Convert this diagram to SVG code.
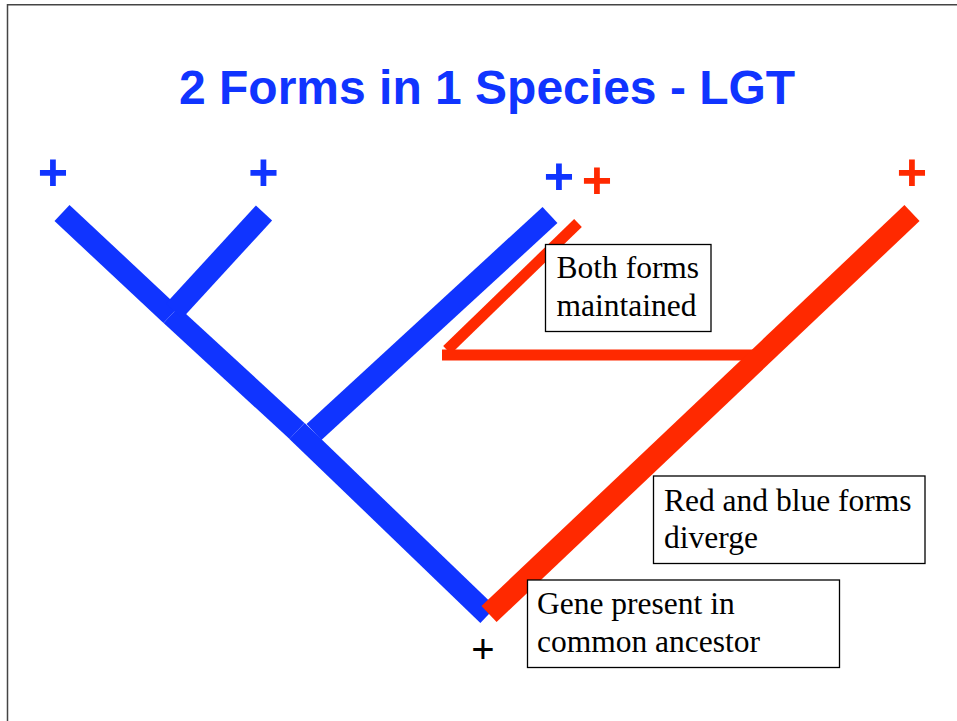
<svg xmlns="http://www.w3.org/2000/svg" width="957" height="721" viewBox="0 0 957 721">
  <style>
    .blue { stroke: #1034FF; stroke-width: 22; stroke-linecap: butt; fill: none; }
    .red { stroke: #FF2900; stroke-width: 22; stroke-linecap: butt; fill: none; }
    .redthin { stroke: #FF2900; stroke-width: 11; stroke-linecap: butt; fill: none; }
    .box { fill: #FFFFFF; stroke: #000000; stroke-width: 1.3; }
    .lbl { font-family: "Liberation Serif", "Times New Roman", serif; font-size: 31.5px; fill: #000000; }
    .plusb { font-family: "Liberation Sans", Arial, sans-serif; font-weight: bold; font-size: 52px; fill: #1034FF; text-anchor: middle; }
    .plusr { font-family: "Liberation Sans", Arial, sans-serif; font-weight: bold; font-size: 52px; fill: #FF2900; text-anchor: middle; }
    .plusk { font-family: "Liberation Sans", Arial, sans-serif; font-size: 40px; fill: #000000; text-anchor: middle; }
  </style>
  <rect x="0" y="0" width="957" height="721" fill="#FFFFFF"/>
  <g id="frame" fill="none" stroke="#444444" stroke-width="1.5">
    <path d="M7.5 721 V4.8 H957"/>
  </g>
  <text id="title" x="179" y="103.5" font-family="Liberation Sans, Arial, sans-serif" font-weight="bold" font-size="48" fill="#1034FF">2 Forms in 1 Species - LGT</text>
  <g id="connectors">
    <line class="blue" x1="62" y1="213" x2="171" y2="315"/>
    <line class="blue" x1="171" y1="315" x2="297" y2="431"/>
    <line class="blue" x1="297" y1="431" x2="488" y2="615"/>
    <line class="blue" x1="264" y1="213" x2="174" y2="311"/>
    <line class="blue" x1="550" y1="215" x2="314" y2="432"/>
    <line class="redthin" x1="578" y1="223" x2="447" y2="350"/>
    <line class="redthin" x1="442" y1="355" x2="757" y2="355"/>
    <line class="red" x1="489" y1="614" x2="912" y2="213"/>
  </g>
  <g id="plus-marks">
    <text class="plusb" x="53" y="190">+</text>
    <text class="plusb" x="263.5" y="190">+</text>
    <text class="plusb" x="559" y="194">+</text>
    <text class="plusr" x="597" y="198">+</text>
    <text class="plusr" x="912" y="190">+</text>
    <text class="plusk" x="483" y="663">+</text>
  </g>
  <g id="node-both">
    <rect class="box" x="545.5" y="244.5" width="165.5" height="87"/>
    <text class="lbl" x="556.5" y="278">Both forms</text>
    <text class="lbl" x="556.5" y="316">maintained</text>
  </g>
  <g id="node-diverge">
    <rect class="box" x="653.5" y="476" width="271.5" height="87.5"/>
    <text class="lbl" x="664" y="511">Red and blue forms</text>
    <text class="lbl" x="664" y="548">diverge</text>
  </g>
  <g id="node-ancestor">
    <rect class="box" x="527.5" y="580" width="312" height="87.5"/>
    <text class="lbl" x="537" y="614">Gene present in</text>
    <text class="lbl" x="537" y="652">common ancestor</text>
  </g>
</svg>
